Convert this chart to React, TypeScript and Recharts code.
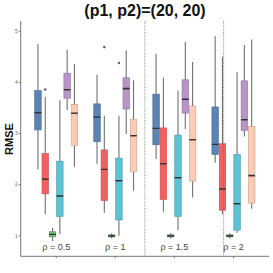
import React from 'react';
import { ComposedChart, Bar, XAxis, YAxis, ReferenceLine } from 'recharts';

// rho values shown in each panel
const rhoLabels = ['ρ = 0.5', 'ρ = 1', 'ρ = 1.5', 'ρ = 2'];

// box stats per panel: [whisker low, q1, median, q3, whisker high]
const blueStats = [[2.3, 3.07, 3.41, 3.84, 4.75], [2.41, 2.84, 3.32, 3.58, 4.15], [2.5, 2.78, 3.1, 3.77, 4.56], [2.43, 2.59, 2.79, 3.52, 4.9]];
const redStats = [[1.42, 1.82, 2.11, 2.61, 3.72], [1.45, 1.69, 2.3, 2.68, 3.35], [1.47, 1.71, 2.41, 3.11, 4.09], [1.42, 1.5, 1.92, 2.8, 4.5]];
const greenStats = [[0.9, 0.98, 1.03, 1.08, 1.16], [0.95, 0.98, 1.0, 1.02, 1.05], [0.95, 0.98, 1.0, 1.02, 1.05], [0.95, 0.98, 1.0, 1.02, 1.05]];
const cyanStats = [[1.03, 1.38, 1.78, 2.46, 3.65], [1.0, 1.31, 2.08, 2.52, 3.35], [1.11, 1.38, 2.14, 2.97, 3.84], [1.06, 1.11, 1.63, 2.59, 4.2]];
const purpleStats = [[3.46, 3.69, 3.86, 4.18, 4.64], [2.99, 3.48, 3.88, 4.09, 4.63], [3.09, 3.4, 3.67, 4.05, 4.79], [2.94, 3.06, 3.27, 4.03, 4.73]];
const peachStats = [[2.35, 2.77, 3.4, 3.57, 4.36], [1.88, 2.25, 2.96, 3.28, 4.04], [1.75, 2.07, 2.88, 3.54, 4.4], [1.53, 1.64, 2.18, 3.14, 4.84]];

// outliers per panel (null = none)
const redOutliers = [3.86, 4.69, null, null];
const cyanOutliers = [null, 4.38, null, null];

const yTicks = [1, 2, 3, 4, 5];

const none = [null, null, null, null];
const methods = [
  { key: 'blue', stats: blueStats, outliers: none, fill: '#5b83b3', stroke: '#46698f' },
  { key: 'red', stats: redStats, outliers: redOutliers, fill: '#f2615f', stroke: '#c94c4b' },
  { key: 'green', stats: greenStats, outliers: none, fill: '#74c46f', stroke: '#4f8a4b' },
  { key: 'cyan', stats: cyanStats, outliers: cyanOutliers, fill: '#5ec2d5', stroke: '#4799a9' },
  { key: 'purple', stats: purpleStats, outliers: none, fill: '#b994c8', stroke: '#8f70a0' },
  { key: 'peach', stats: peachStats, outliers: none, fill: '#fecbb4', stroke: '#c9a08e' },
];

const data = rhoLabels.map((rho, i) => {
  const row: any = { rho };
  methods.forEach((m) => {
    const [lo, q1, med, q3, hi] = m.stats[i];
    const out = m.outliers[i];
    row[m.key + '_base'] = lo;
    row[m.key + '_lw'] = q1 - lo;
    row[m.key + '_lb'] = med - q1;
    row[m.key + '_hb'] = q3 - med;
    row[m.key + '_hw'] = hi - q3;
    row[m.key + '_out'] = out != null ? out - hi : 0;
  });
  return row;
});

const whisker = (props: any) => {
  const { x, y, width, height } = props;
  const cx = x + width / 2;
  return <line x1={cx} x2={cx} y1={y} y2={y + height} stroke="#707070" strokeWidth={1.1} />;
};

const RhoTick = (props: any) => {
  const { x, y, payload } = props;
  return (
    <g>
      <text x={x} y={y - 8} textAnchor="middle" fontSize={9} fill="#444" fontFamily="Liberation Sans, Arial, sans-serif">
        {payload.value}
      </text>
    </g>
  );
};

export default function App() {
  return (
    <div style={{ position: 'absolute', left: 0, top: 0, width: 273, height: 273, background: '#fff', fontFamily: 'Liberation Sans, Arial, sans-serif' }}>
      <div style={{ position: 'absolute', left: 20, width: 250, top: 2, textAlign: 'center', fontSize: 16, lineHeight: '17px', fontWeight: 'bold', color: '#111' }}>
        (p1, p2)=(20, 20)
      </div>
      <div style={{ position: 'absolute', left: 8.5, top: 139, transform: 'translate(-50%, -50%) rotate(-90deg)', fontSize: 11, fontWeight: 'bold', color: '#111', whiteSpace: 'nowrap' }}>
        RMSE
      </div>
      <ComposedChart width={273} height={273} data={data} margin={{ top: 21, right: 4, bottom: 0, left: 0 }} barSize={6.5} barGap={0.8}>
        <XAxis dataKey="rho" padding={{ left: 6, right: 6 }} stroke="#777" tickSize={2} tickMargin={0} height={16.7} tick={<RhoTick />} interval={0} />
        <XAxis xAxisId="n" type="number" orientation="top" domain={[0.5, 4.5]} padding={{ left: 6, right: 6 }} height={0} tick={false} tickLine={false} stroke="#777" />
        <YAxis domain={[0.6, 5.2]} allowDataOverflow ticks={yTicks} width={20.7} tickSize={2} tickMargin={1} stroke="#777" tick={{ fontSize: 5, fill: '#666' }} />
        <YAxis yAxisId="r" orientation="right" domain={[0.6, 5.2]} allowDataOverflow width={0} tick={false} tickLine={false} stroke="#777" />
        {[1.5, 2.5, 3.5].map((v) => (
          <ReferenceLine key={v} xAxisId="n" x={v} stroke="#666" strokeDasharray="1 1.2" strokeWidth={0.8} />
        ))}
        {methods.map((m) => [
          <Bar key={m.key + '_base'} dataKey={m.key + '_base'} stackId={m.key} isAnimationActive={false} shape={() => null} />,
          <Bar key={m.key + '_lw'} dataKey={m.key + '_lw'} stackId={m.key} isAnimationActive={false} shape={whisker} />,
          <Bar
            key={m.key + '_lb'}
            dataKey={m.key + '_lb'}
            stackId={m.key}
            isAnimationActive={false}
            shape={(p: any) => (
              <g>
                <rect x={p.x} y={p.y} width={p.width} height={p.height} fill={m.fill} stroke={m.stroke} strokeWidth={0.6} />
                <line x1={p.x} x2={p.x + p.width} y1={p.y} y2={p.y} stroke="#333" strokeWidth={1.3} />
              </g>
            )}
          />,
          <Bar
            key={m.key + '_hb'}
            dataKey={m.key + '_hb'}
            stackId={m.key}
            isAnimationActive={false}
            shape={(p: any) => (
              <g>
                <rect x={p.x} y={p.y} width={p.width} height={p.height} fill={m.fill} stroke={m.stroke} strokeWidth={0.6} />
                <line x1={p.x} x2={p.x + p.width} y1={p.y + p.height} y2={p.y + p.height} stroke="#333" strokeWidth={1.3} />
              </g>
            )}
          />,
          <Bar key={m.key + '_hw'} dataKey={m.key + '_hw'} stackId={m.key} isAnimationActive={false} shape={whisker} />,
          <Bar
            key={m.key + '_out'}
            dataKey={m.key + '_out'}
            stackId={m.key}
            isAnimationActive={false}
            shape={(p: any) =>
              p.payload && p.payload[m.key + '_out'] > 0 ? <circle cx={p.x + p.width / 2} cy={p.y} r={1.3} fill="#666" /> : null
            }
          />,
        ])}
      </ComposedChart>
    </div>
  );
}
